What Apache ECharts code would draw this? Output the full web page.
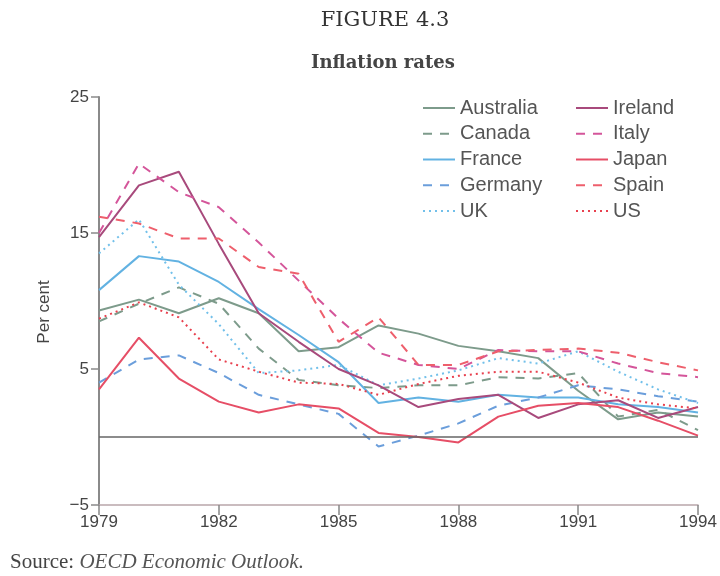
<!DOCTYPE html>
<html>
<head>
<meta charset="utf-8">
<script src="https://cdn.jsdelivr.net/npm/echarts@6/dist/echarts.min.js"></script>
<style>
html,body{margin:0;padding:0;background:#fff;}
#chart{width:720px;height:576px;}
</style>
</head>
<body>
<div id="chart"></div>
<script>
var years = [1979,1980,1981,1982,1983,1984,1985,1986,1987,1988,1989,1990,1991,1992,1993,1994];
var australia = [9.3,10.1,9.1,10.2,9.1,6.3,6.6,8.2,7.6,6.7,6.3,5.8,3.4,1.3,1.8,1.5];
var canada    = [8.5,9.8,11.0,9.8,6.5,4.2,3.8,3.6,3.8,3.8,4.4,4.3,4.7,1.5,2.0,0.5];
var france    = [10.8,13.3,12.9,11.4,9.4,7.5,5.5,2.5,2.9,2.6,3.1,2.9,2.9,2.4,2.2,1.8];
var germany   = [4.0,5.7,6.0,4.7,3.1,2.4,1.7,-0.7,0.1,1.0,2.3,2.9,3.8,3.5,3.0,2.6];
var uk        = [13.5,16.0,11.2,8.3,4.7,4.9,5.3,3.8,4.3,4.9,5.8,5.4,6.3,4.8,3.5,2.5];
var ireland   = [14.7,18.5,19.5,14.2,9.1,7.0,5.0,3.8,2.2,2.8,3.1,1.4,2.4,2.7,1.4,2.2];
var italy     = [15.0,20.1,18.0,16.9,14.3,11.5,8.7,6.2,5.3,5.0,6.4,6.3,6.3,5.4,4.7,4.4];
var japan     = [3.5,7.3,4.3,2.6,1.8,2.4,2.1,0.3,0.0,-0.4,1.5,2.3,2.5,2.2,1.2,0.1];
var spain     = [16.2,15.7,14.6,14.6,12.5,12.0,7.0,8.8,5.3,5.3,6.3,6.4,6.5,6.2,5.5,4.9];
var us        = [8.7,9.9,8.8,5.7,4.8,4.0,3.9,3.1,3.9,4.5,4.8,4.8,4.0,2.9,2.4,2.1];
var yTicks = [-5,5,15,25];
var xTicks = [1979,1982,1985,1988,1991,1994];

var col1 = ['Australia','Canada','France','Germany','UK'];
var col2 = ['Ireland','Italy','Japan','Spain','US'];

var seriesDefs = [
  {name:'Australia', data:australia, color:'#7d9b8b', type:'solid'},
  {name:'Canada',    data:canada,    color:'#7d9b8b', type:[9,8]},
  {name:'France',    data:france,    color:'#62b2e2', type:'solid'},
  {name:'Germany',   data:germany,   color:'#6b9edb', type:[9,8]},
  {name:'UK',        data:uk,        color:'#72c0ea', type:[2,4]},
  {name:'Ireland',   data:ireland,   color:'#a84a7c', type:'solid'},
  {name:'Italy',     data:italy,     color:'#d4559a', type:[9,8]},
  {name:'Japan',     data:japan,     color:'#e64e66', type:'solid'},
  {name:'Spain',     data:spain,     color:'#ee5f6c', type:[9,8]},
  {name:'US',        data:us,        color:'#e8404e', type:[2,4]}
];

var series = seriesDefs.map(function(d, i){
  var s = {
    name: d.name,
    type: 'line',
    symbol: 'none',
    data: years.map(function(y, k){ return [y, d.data[k]]; }),
    lineStyle: {color: d.color, width: 2, type: d.type},
    itemStyle: {color: d.color},
    z: 3
  };
  if (i === 0) {
    s.markLine = {
      silent: true, symbol: 'none', label: {show: false},
      lineStyle: {color: '#666', width: 1.5, type: 'solid'},
      data: [{yAxis: 0}]
    };
  }
  return s;
});

var legendText = {fontFamily: 'Liberation Sans, Arial, sans-serif', fontSize: 20, color: '#555', lineHeight: 20};
var legendCommon = {orient: 'vertical', top: 93, itemWidth: 32, itemHeight: 12, itemGap: 5.75,
  textStyle: legendText, selectedMode: false, itemStyle: {opacity: 0}};

var chart = echarts.init(document.getElementById('chart'), null, {renderer: 'canvas'});
chart.setOption({
  animation: false,
  backgroundColor: '#fff',
  title: [
    {text: 'FIGURE 4.3', left: 380, top: 5, textAlign: 'center',
     textStyle: {fontFamily: 'DejaVu Serif, serif', fontSize: 21, fontWeight: 'normal', color: '#333'}},
    {text: 'Inflation rates', left: 378, top: 49, textAlign: 'center',
     textStyle: {fontFamily: 'DejaVu Serif, serif', fontSize: 18, fontWeight: 'bold', color: '#444'}}
  ],
  legend: [
    Object.assign({data: col1, left: 417}, legendCommon),
    Object.assign({data: col2, left: 570}, legendCommon)
  ],
  grid: {left: 99, right: 22, top: 97, bottom: 71, containLabel: false},
  xAxis: {
    type: 'value', min: 1979, max: 1994, interval: 3,
    axisLine: {onZero: false, lineStyle: {color: '#b9a6aa', width: 1.5}},
    axisTick: {show: true, length: 10, lineStyle: {color: '#888', width: 1.5}},
    axisLabel: {color: '#444', fontSize: 17, fontFamily: 'Liberation Sans, Arial, sans-serif', margin: 9,
      formatter: function(v){ return xTicks.indexOf(v) >= 0 ? String(v) : ''; }},
    splitLine: {show: false}
  },
  yAxis: {
    type: 'value', min: -5, max: 25, interval: 10,
    axisLine: {show: true, lineStyle: {color: '#8a8a8a', width: 2}},
    axisTick: {show: true, length: 8, lineStyle: {color: '#8a8a8a', width: 1.5}},
    axisLabel: {color: '#444', fontSize: 17, fontFamily: 'Liberation Sans, Arial, sans-serif', margin: 10,
      formatter: function(v){ return yTicks.indexOf(v) >= 0 ? String(v).replace('-', '\u2212') : ''; }},
    splitLine: {show: false}
  },
  graphic: [{
    type: 'text', x: 44, y: 312, rotation: Math.PI / 2,
    style: {
      text: 'Per cent', align: 'center', verticalAlign: 'middle',
      font: '17px Liberation Sans, Arial, sans-serif', fill: '#444'
    }
  }, {
    type: 'text', left: 10, top: 552,
    style: {
      text: '{a|Source: }{b|OECD Economic Outlook.}',
      rich: {
        a: {fontFamily: 'Liberation Serif, Times New Roman, serif', fontSize: 21, fill: '#444'},
        b: {fontFamily: 'Liberation Serif, Times New Roman, serif', fontSize: 21, fontStyle: 'italic', fill: '#555'}
      }
    }
  }],
  series: series
});
</script>
</body>
</html>
